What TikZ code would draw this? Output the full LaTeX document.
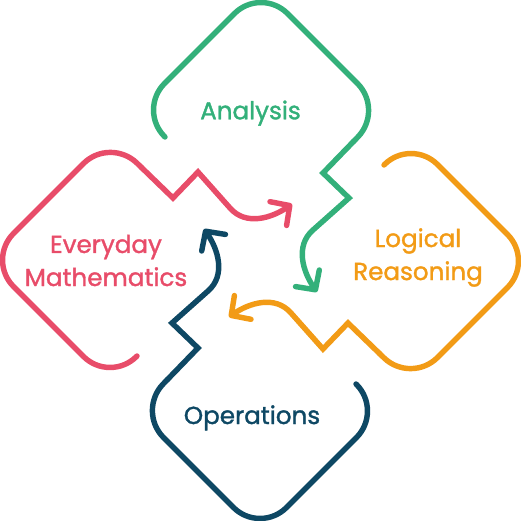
\documentclass[tikz,border=0pt]{standalone}
\usepackage{fontspec}
\setmainfont{Poppins}[FakeBold=1.4]
\usetikzlibrary{arrows.meta, positioning}
\definecolor{anagreen}{HTML}{33B07A}
\definecolor{everyred}{HTML}{E84C69}
\definecolor{logorange}{HTML}{F29B16}
\definecolor{opnavy}{HTML}{0E4864}

\begin{document}
\begin{tikzpicture}[x=0.02cm, y=0.02cm,
		loop line/.style={line width=3.1pt, line cap=round},
		loop arrow/.style={loop line, -{Straight Barb[length=0.28cm, width=0.58cm, round]}},
		every node/.style={font=\fontsize{14}{18.8}\selectfont, align=center}]
	\useasboundingbox (-260.5,-260.5) rectangle (260.5,260.5);
	\foreach \ang/\col in {0/anagreen, 90/everyred, 180/opnavy, 270/logorange}{
		\draw[loop line, \col, rotate=\ang, rounded corners=0.75cm] (-95.5,123.5) -- (-122.5,150.5) -- (0.5,273.5) -- (123.5,150.5) -- (93,119);
		\draw[loop arrow, \col, rotate=\ang] (93,119) -- (62.5,87.5) -- (88.5,62.5) -- (52.5,30.5) .. controls (34.2,14.6) and (42.6,-11.6) .. (56.5,-31.5);
	}
	\node[anagreen, anchor=base] (analysis) at (-10,141.2) {Analysis};
	\node[everyred] (everyday) at (-154.5,0) {Everyday\\Mathematics};
	\node[logorange] (logical) at (157.5,3) {Logical\\Reasoning};
	\node[opnavy, anchor=base] (operations) at (-8.5,-163.5) {Operations};
\end{tikzpicture}
\end{document}
